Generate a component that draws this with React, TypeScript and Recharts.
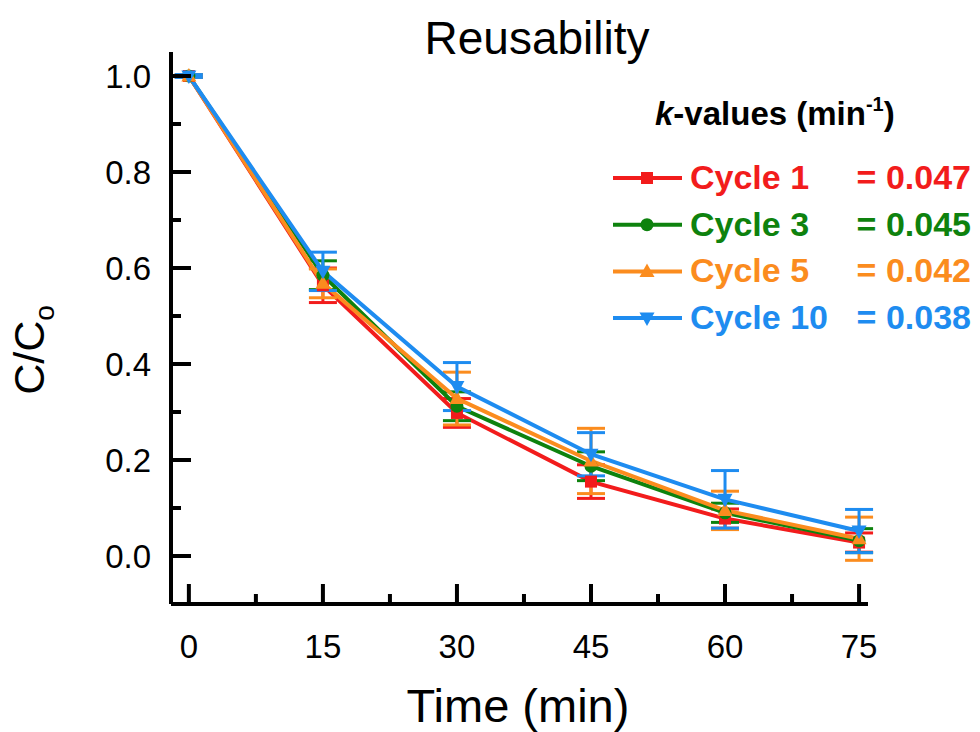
import React from "react";
import { LineChart, Line, XAxis, YAxis, ErrorBar } from "recharts";

// Time points (min)
const times = [0, 15, 30, 45, 60, 75];

// C/Co values per cycle
const cycle1 = [1.0, 0.564, 0.298, 0.155, 0.078, 0.028];
const cycle1Err = [0.003, 0.036, 0.03, 0.035, 0.02, 0.02];
const cycle3 = [1.0, 0.585, 0.312, 0.187, 0.09, 0.032];
const cycle3Err = [0.003, 0.03, 0.03, 0.03, 0.02, 0.025];
const cycle5 = [1.0, 0.568, 0.328, 0.198, 0.095, 0.036];
const cycle5Err = [0.003, 0.03, 0.055, 0.068, 0.04, 0.045];
const cycle10 = [1.0, 0.593, 0.353, 0.212, 0.118, 0.052];
const cycle10Err = [0.003, 0.04, 0.05, 0.045, 0.06, 0.045];

const seriesNames = ["Cycle 1", "Cycle 3", "Cycle 5", "Cycle 10"];
const kValues = ["= 0.047", "= 0.045", "= 0.042", "= 0.038"];

const xMajor = [0, 15, 30, 45, 60, 75];
const xMinor = [7.5, 22.5, 37.5, 52.5, 67.5];
const yMajor = [0, 0.2, 0.4, 0.6, 0.8, 1.0];
const yMinor = [0.1, 0.3, 0.5, 0.7, 0.9];

const colors = {
  c1: "#f21c1c",
  c3: "#0e820e",
  c5: "#fb8c1e",
  c10: "#1e8cf0",
};

const FONT = "'Liberation Sans', Arial, sans-serif";

// plot frame (matches the chart margins + axis sizes below)
const PLOT_LEFT = 171;
const PLOT_BOTTOM = 604;

const chartData = times.map((t, i) => ({
  time: t,
  c1: cycle1[i],
  c1e: cycle1Err[i],
  c3: cycle3[i],
  c3e: cycle3Err[i],
  c5: cycle5[i],
  c5e: cycle5Err[i],
  c10: cycle10[i],
  c10e: cycle10Err[i],
}));

type Shape = "square" | "circle" | "up" | "down";

function Marker({ cx, cy, shape, color }: { cx: number; cy: number; shape: Shape; color: string }) {
  if (shape === "square") {
    return <rect x={cx - 6} y={cy - 6} width={12} height={12} fill={color} />;
  }
  if (shape === "circle") {
    return <circle cx={cx} cy={cy} r={6.5} fill={color} />;
  }
  if (shape === "up") {
    return <polygon points={`${cx},${cy - 8} ${cx - 7.5},${cy + 5.5} ${cx + 7.5},${cy + 5.5}`} fill={color} />;
  }
  return <polygon points={`${cx},${cy + 8} ${cx - 7.5},${cy - 5.5} ${cx + 7.5},${cy - 5.5}`} fill={color} />;
}

const makeDot = (shape: Shape, color: string) => (props: any) => {
  const { cx, cy, index } = props;
  return (
    <g key={`${shape}-${index}`}>
      <Marker cx={cx} cy={cy} shape={shape} color={color} />
    </g>
  );
};

const xMinorSet = new Set(xMinor);
const yMinorSet = new Set(yMinor.map((v) => v.toFixed(1)));

// inward ticks: major 20px, minor 10px
function XTick(props: any) {
  const { x, payload } = props;
  const minor = xMinorSet.has(payload.value);
  const y = PLOT_BOTTOM;
  return (
    <g>
      <line x1={x} y1={y} x2={x} y2={y - (minor ? 10 : 20)} stroke="#000" strokeWidth={4} />
      {!minor && (
        <text x={x} y={y + 54} textAnchor="middle" fontSize={33} fontFamily={FONT} fill="#000">
          {payload.value}
        </text>
      )}
    </g>
  );
}

function YTick(props: any) {
  const { y, payload } = props;
  const minor = yMinorSet.has(Number(payload.value).toFixed(1));
  const x = PLOT_LEFT;
  return (
    <g>
      <line x1={x} y1={y} x2={x + (minor ? 10 : 20)} y2={y} stroke="#000" strokeWidth={4} />
      {!minor && (
        <text x={x - 20} y={y + 12} textAnchor="end" fontSize={33} fontFamily={FONT} fill="#000">
          {Number(payload.value).toFixed(1)}
        </text>
      )}
    </g>
  );
}

const legendRows: { key: string; shape: Shape; color: string }[] = [
  { key: "c1", shape: "square", color: colors.c1 },
  { key: "c3", shape: "circle", color: colors.c3 },
  { key: "c5", shape: "up", color: colors.c5 },
  { key: "c10", shape: "down", color: colors.c10 },
];

export default function App() {
  return (
    <div style={{ position: "absolute", left: 0, top: 0, width: 980, height: 732, background: "#fff" }}>
      <LineChart
        width={980}
        height={732}
        data={chartData}
        margin={{ top: 52, right: 112, left: 0, bottom: 0 }}
      >
        <XAxis
          dataKey="time"
          type="number"
          domain={[-2, 76]}
          allowDataOverflow
          ticks={[...xMajor, ...xMinor].sort((a, b) => a - b)}
          interval={0}
          height={128}
          tickSize={0}
          tickMargin={0}
          tickLine={false}
          axisLine={{ stroke: "#000", strokeWidth: 4 }}
          tick={<XTick />}
        />
        <YAxis
          type="number"
          domain={[-0.1, 1.05]}
          allowDataOverflow
          ticks={[...yMajor, ...yMinor].sort((a, b) => a - b)}
          interval={0}
          width={171}
          tickSize={0}
          tickMargin={0}
          tickLine={false}
          axisLine={{ stroke: "#000", strokeWidth: 4 }}
          tick={<YTick />}
        />
        <Line dataKey="c1" stroke={colors.c1} strokeWidth={4} dot={makeDot("square", colors.c1)} isAnimationActive={false}>
          <ErrorBar dataKey="c1e" width={14} strokeWidth={3} stroke={colors.c1} direction="y" isAnimationActive={false} />
        </Line>
        <Line dataKey="c3" stroke={colors.c3} strokeWidth={4} dot={makeDot("circle", colors.c3)} isAnimationActive={false}>
          <ErrorBar dataKey="c3e" width={14} strokeWidth={3} stroke={colors.c3} direction="y" isAnimationActive={false} />
        </Line>
        <Line dataKey="c5" stroke={colors.c5} strokeWidth={4} dot={makeDot("up", colors.c5)} isAnimationActive={false}>
          <ErrorBar dataKey="c5e" width={14} strokeWidth={3} stroke={colors.c5} direction="y" isAnimationActive={false} />
        </Line>
        <Line dataKey="c10" stroke={colors.c10} strokeWidth={4} dot={makeDot("down", colors.c10)} isAnimationActive={false}>
          <ErrorBar dataKey="c10e" width={14} strokeWidth={3} stroke={colors.c10} direction="y" isAnimationActive={false} />
        </Line>
      </LineChart>

      {/* titles and legend drawn on top */}
      <svg
        width={980}
        height={732}
        style={{ position: "absolute", left: 0, top: 0, pointerEvents: "none" }}
        fontFamily={FONT}
      >
        <text x={537} y={54} textAnchor="middle" fontSize={46} fill="#000">
          Reusability
        </text>
        <text x={518} y={722} textAnchor="middle" fontSize={47} fill="#000">
          Time (min)
        </text>
        <text transform="translate(44,350) rotate(-90)" textAnchor="middle" fontSize={43} fill="#000">
          C/C
          <tspan fontSize={28} dy={10}>o</tspan>
        </text>

        <text x={655} y={125} fontSize={33} fontWeight="bold" fill="#000">
          <tspan fontStyle="italic">k</tspan>-values (min
          <tspan fontSize={20} dy={-14}>-1</tspan>
          <tspan dy={14}>)</tspan>
        </text>
        {legendRows.map((r, i) => {
          const base = 189 + i * 46.7;
          const cy = base - 11;
          return (
            <g key={r.key}>
              <line x1={613} y1={cy} x2={682} y2={cy} stroke={r.color} strokeWidth={4} />
              <Marker cx={647} cy={cy} shape={r.shape} color={r.color} />
              <text x={690} y={base} fontSize={34} fontWeight="bold" fill={r.color}>
                {seriesNames[i]}
              </text>
              <text x={971} y={base} textAnchor="end" fontSize={34} fontWeight="bold" fill={r.color}>
                {kValues[i]}
              </text>
            </g>
          );
        })}
      </svg>
    </div>
  );
}
